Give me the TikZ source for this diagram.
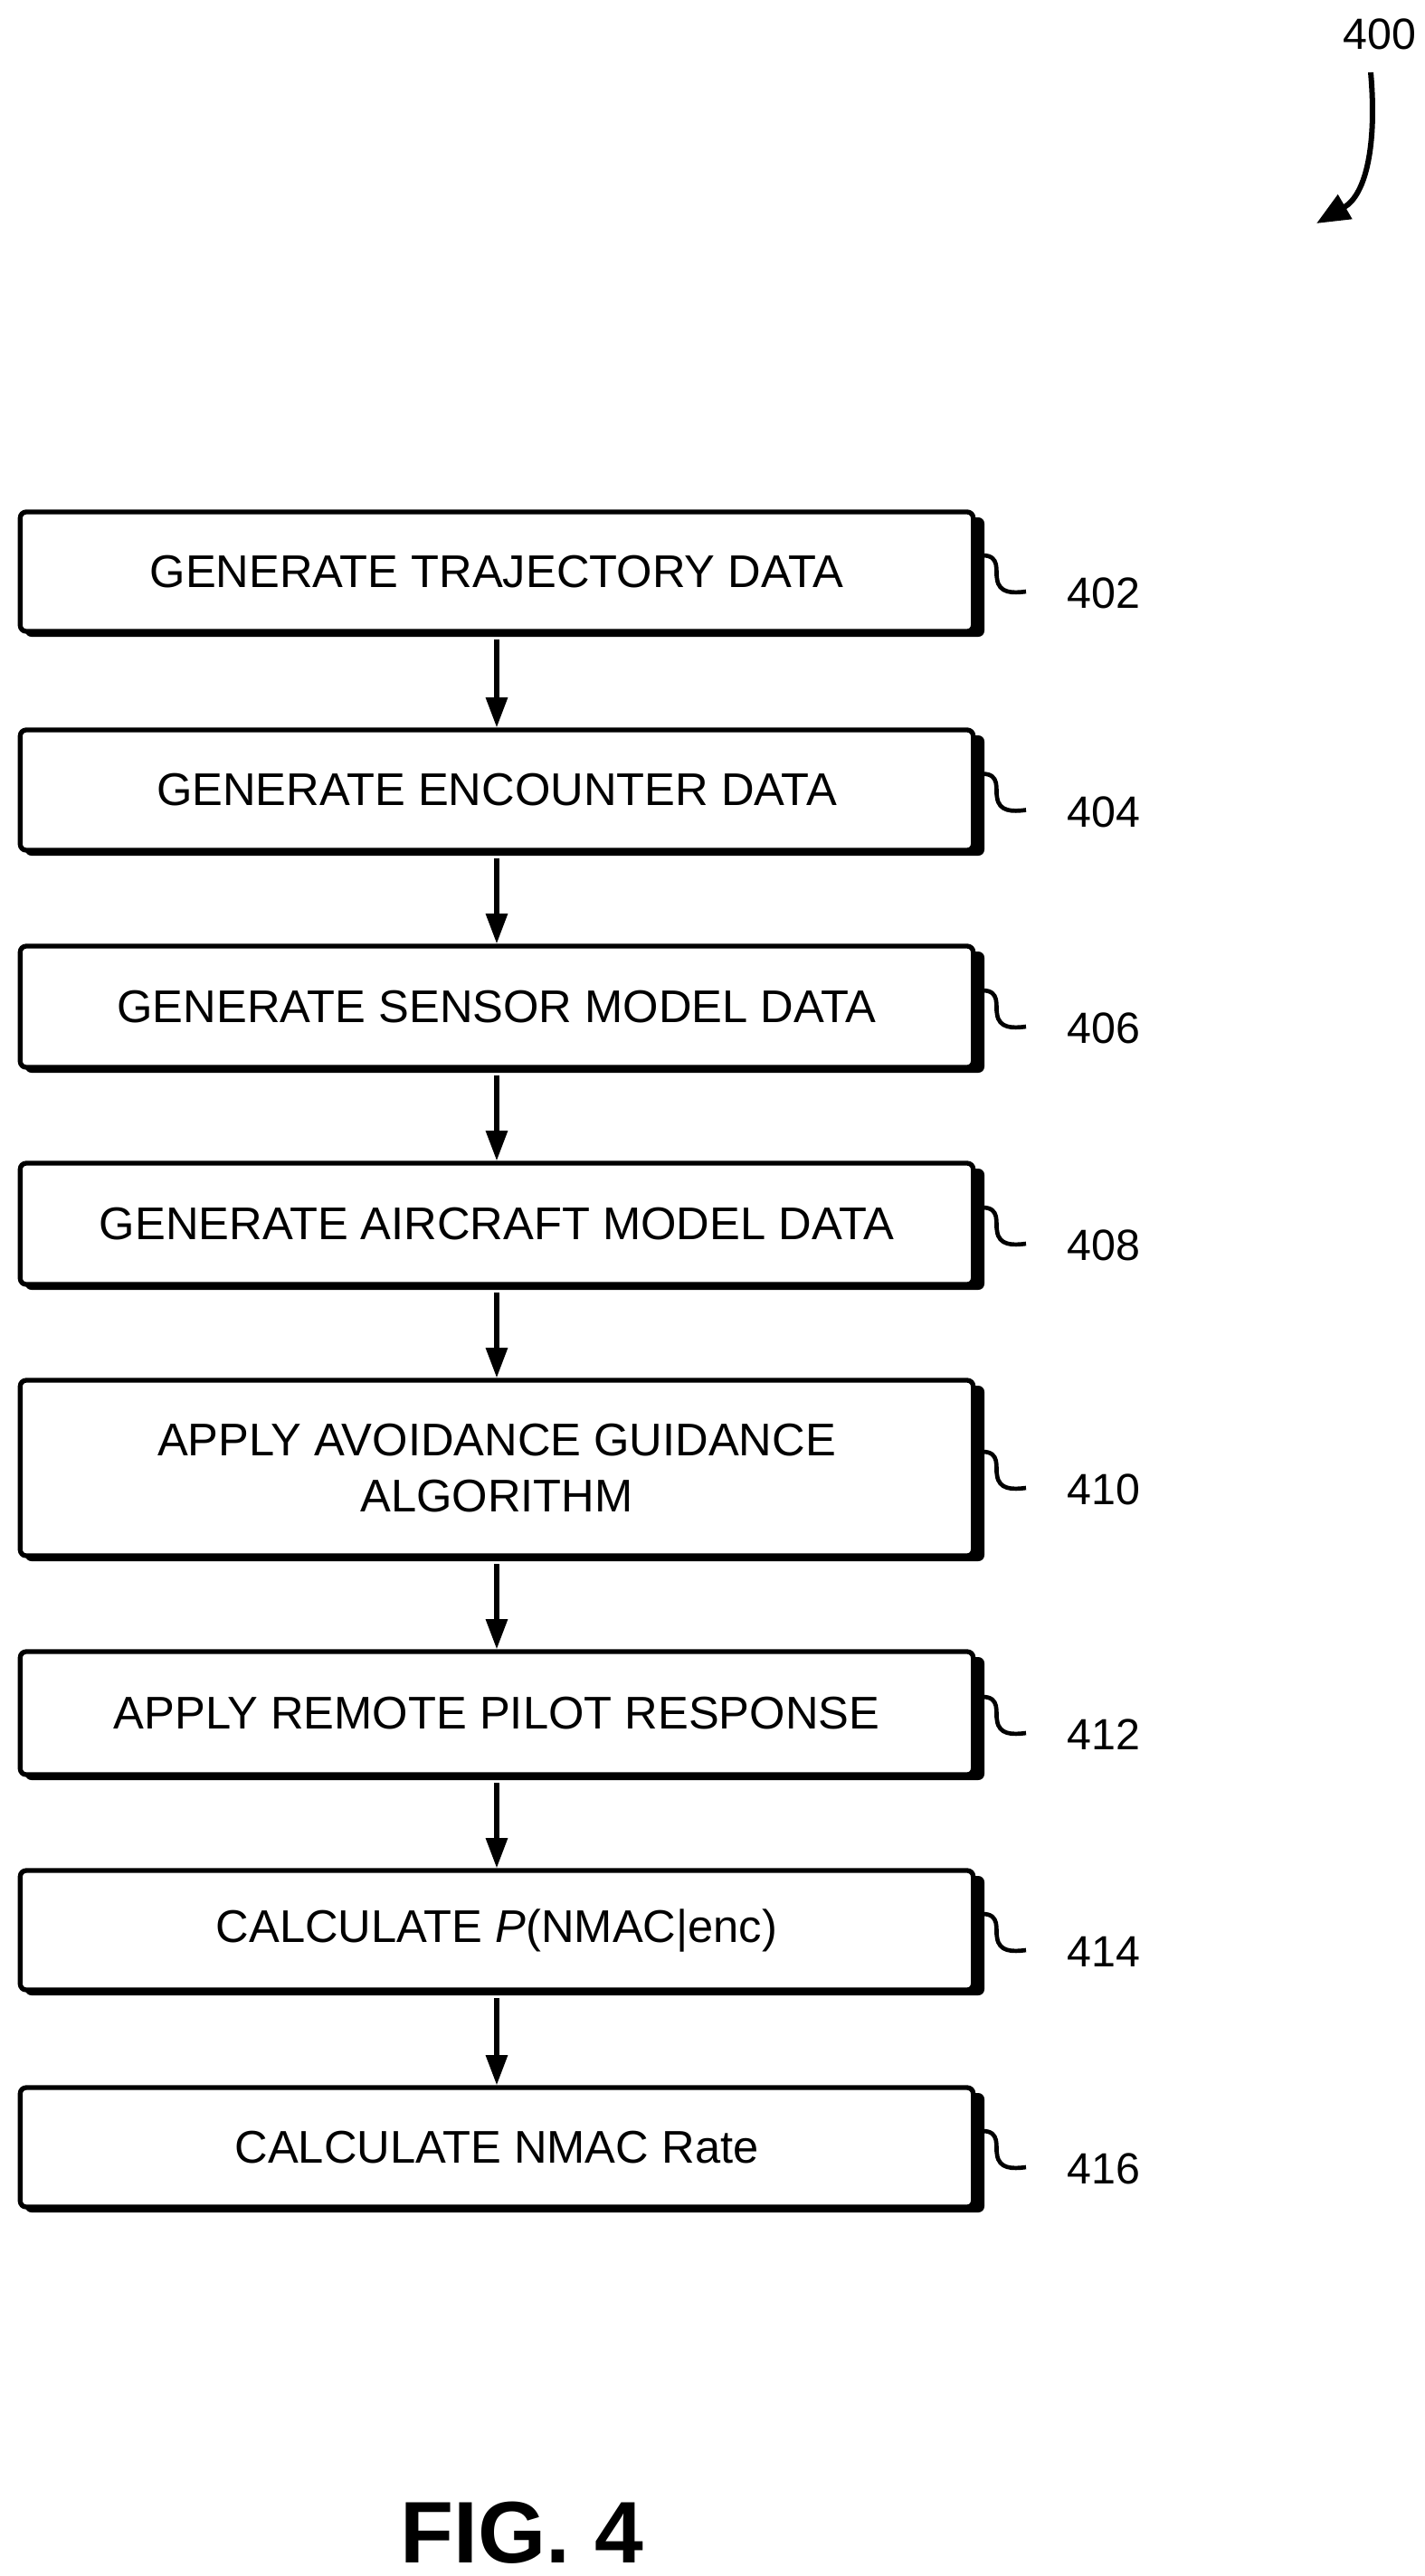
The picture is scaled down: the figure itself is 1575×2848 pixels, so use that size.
\documentclass[tikz,border=0pt]{standalone}
\usepackage{fontspec}
\setmainfont{Liberation Sans}
\usetikzlibrary{arrows.meta}
\begin{document}
\begin{tikzpicture}[x=0.3pt,y=-0.3pt,
  box/.style={draw=black,line width=1.6pt,fill=white,rounded corners=2pt,minimum width=316pt,align=center,font=\fontsize{15.2}{18.5}\selectfont,inner sep=0pt},
  shadow/.style={fill=black,rounded corners=2pt},
  flow/.style={line width=1.6pt,-{Triangle[length=10pt,width=7pt]}},
  lbl/.style={font=\fontsize{14.5}{17}\selectfont,anchor=west},
  sq/.style={line width=1.4pt}]
\useasboundingbox (0,0) rectangle (1575,2848);
\def\boxy#1#2#3#4#5{%
  \fill[shadow] (28,#2+6) rectangle (1088,#3+6);
  \node[box,minimum height={(#3-#2)*0.3pt}] (#1) at (549,{(#2+#3)/2}) {#4};
  \draw[sq] (1086,{(#2+#3)/2-18}) .. controls (1106,{(#2+#3)/2-18}) and (1100,{(#2+#3)/2}) .. (1102,{(#2+#3)/2+8}) .. controls (1104,{(#2+#3)/2+24}) and (1119,{(#2+#3)/2+24}) .. (1134,{(#2+#3)/2+22});
  \node[lbl] (l#1) at (1168,{(#2+#3)/2+24}) {#5};
}
\boxy{b1}{566}{698}{GENERATE TRAJECTORY DATA}{402}
\boxy{b2}{807}{940}{GENERATE ENCOUNTER DATA}{404}
\boxy{b3}{1046}{1180}{GENERATE SENSOR MODEL DATA}{406}
\boxy{b4}{1286}{1420}{GENERATE AIRCRAFT MODEL DATA}{408}
\boxy{b5}{1526}{1720}{APPLY AVOIDANCE GUIDANCE\\ALGORITHM}{410}
\boxy{b6}{1826}{1962}{APPLY REMOTE PILOT RESPONSE}{412}
\boxy{b7}{2068}{2200}{CALCULATE \textit{P}(NMAC|enc)}{414}
\boxy{b8}{2308}{2440}{CALCULATE NMAC Rate}{416}
\foreach \a/\b in {b1/b2,b2/b3,b3/b4,b4/b5,b5/b6,b6/b7,b7/b8}
  \draw[flow] ([yshift=-2pt]\a.south) -- (\b.north);
\node[font=\fontsize{14.5}{17}\selectfont] (n400) at (1525,38) {400};
\coordinate (t400) at (1455,247);
\draw[line width=1.8pt,-{Triangle[length=11pt,width=9pt]}] (1515,80) .. controls (1522,160) and (1510,215) .. (t400);
\node[font=\fontsize{29}{34}\selectfont\bfseries] (fig) at (577,2800) {FIG. 4};
\end{tikzpicture}
\end{document}
